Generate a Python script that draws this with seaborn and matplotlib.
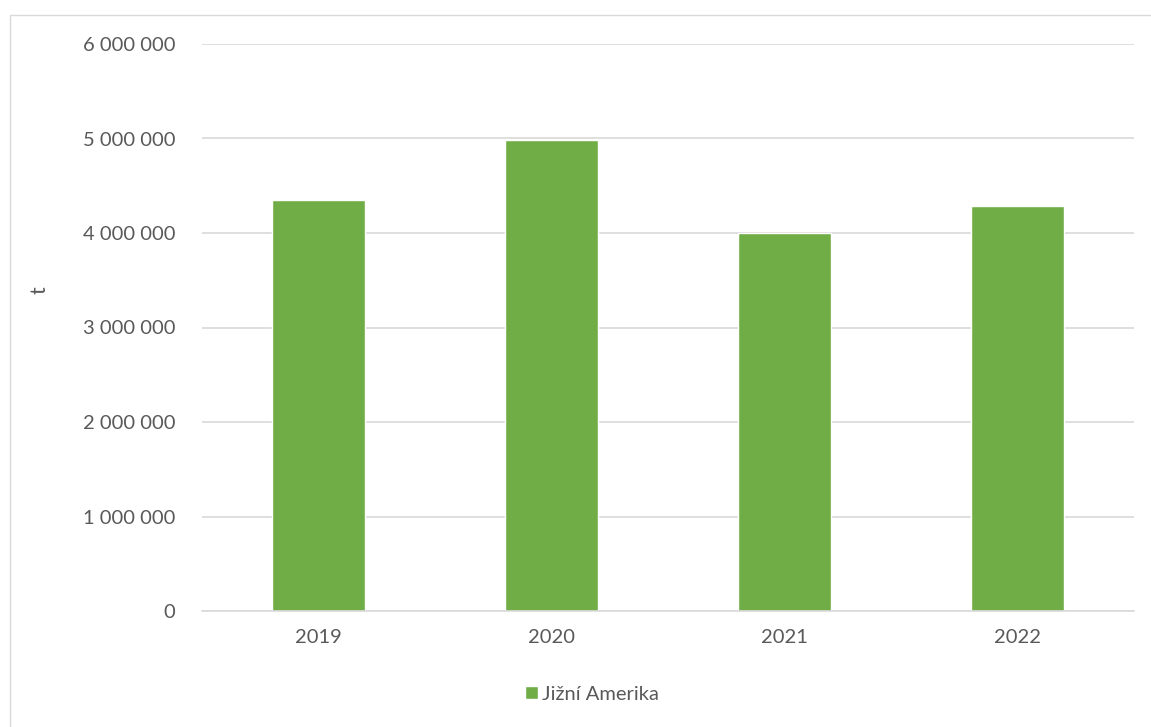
import matplotlib
matplotlib.use("Agg")
import matplotlib.pyplot as plt
import seaborn as sns
import pandas as pd
from matplotlib.ticker import FuncFormatter, MultipleLocator
from matplotlib.patches import Rectangle

years = ["2019", "2020", "2021", "2022"]
values = [4350000, 4980000, 4005000, 4290000]
series_name = "Jižní Amerika"

sns.set_theme(style="white")
plt.rcParams['font.family'] = ['Lato', 'DejaVu Sans']

df = pd.DataFrame({"year": years, "value": values, "series": series_name})

W, H = 1151, 727
fig = plt.figure(figsize=(W / 100, H / 100), dpi=100)
ax = fig.add_axes([202 / W, 1 - 611 / H, (1134 - 202) / W, (611 - 44) / H])

sns.barplot(data=df, x="year", y="value", hue="series", palette=["#70AD47"],
            width=0.4, ax=ax, legend=True, saturation=1)

FS = 14.5
ax.set_ylim(0, 6000000)
ax.yaxis.set_major_locator(MultipleLocator(1000000))
ax.yaxis.set_major_formatter(FuncFormatter(lambda v, p: f"{int(v):,}".replace(",", " ")))
ax.grid(axis="y", color="#D9D9D9", linewidth=1.2)
ax.set_axisbelow(True)
for s in ["top", "right", "left"]:
    ax.spines[s].set_visible(False)
ax.spines["bottom"].set_color("#D9D9D9")
ax.spines["bottom"].set_linewidth(1.2)
ax.tick_params(axis="both", colors="#595959", labelsize=FS, length=0)
ax.tick_params(axis="y", pad=19)
ax.tick_params(axis="x", pad=13)
ax.set_xlabel("")
ax.set_ylabel("t", color="#595959", fontsize=FS + 1, rotation=90)
ax.yaxis.set_label_coords((50 - 202) / (1134 - 202), (611 - 290) / (611 - 44))

leg = ax.legend(loc="center", bbox_to_anchor=(592 / W, 1 - 694 / H),
                bbox_transform=fig.transFigure,
                frameon=False, fontsize=FS, handlelength=0.65, handleheight=0.65,
                handletextpad=0.2, labelcolor="#595959")

fig.add_artist(Rectangle((10 / W, -0.1), 1.2, 1 - 15 / H + 0.1, transform=fig.transFigure,
                         fill=False, edgecolor="#D9D9D9", linewidth=1))

fig.savefig("out.png", dpi=100)
